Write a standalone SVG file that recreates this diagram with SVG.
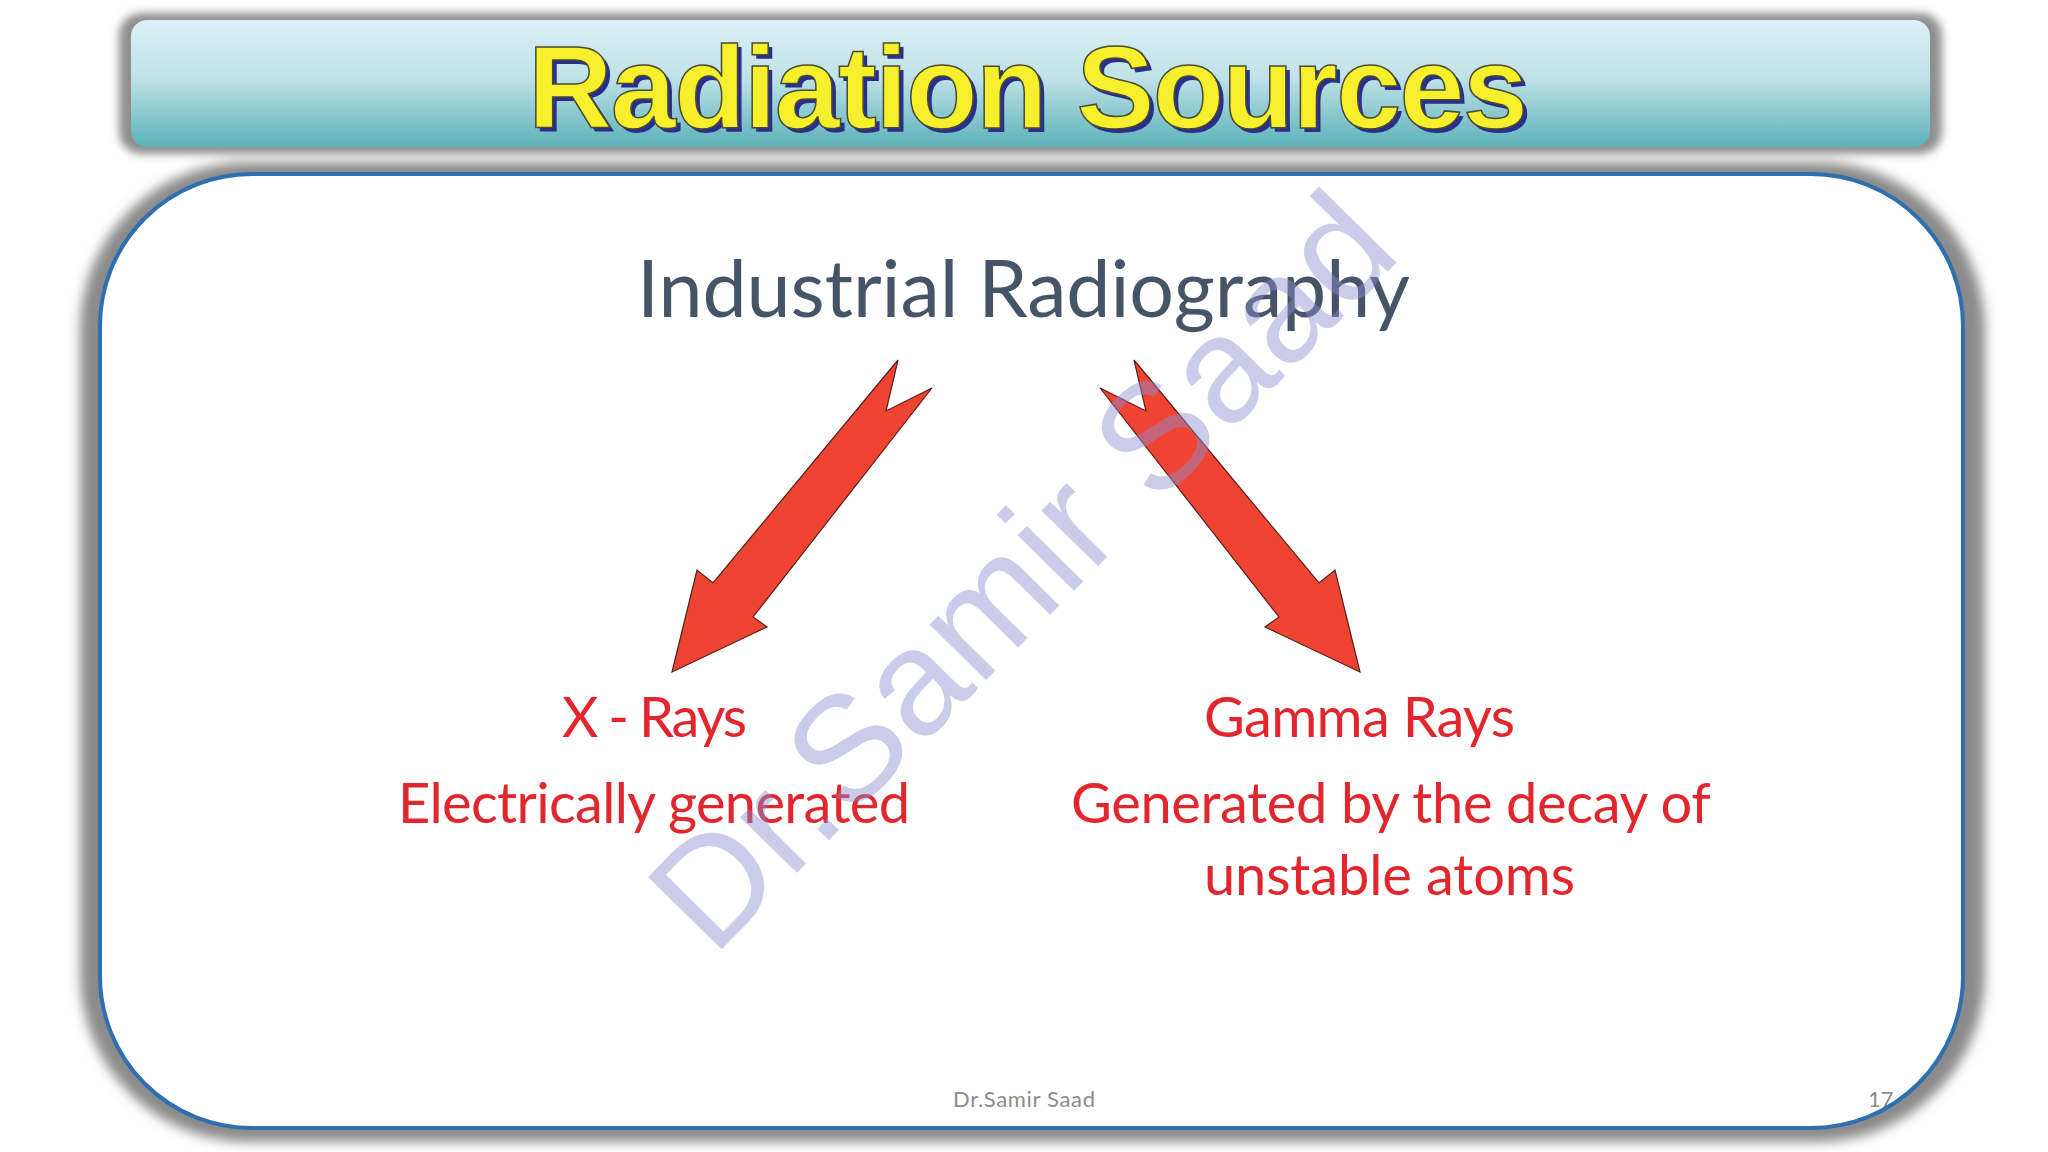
<svg xmlns="http://www.w3.org/2000/svg" width="2048" height="1152" viewBox="0 0 2048 1152">
  <style>
    .body { font-family: Lato, "Open Sans", "Liberation Sans", sans-serif; }
    .red { fill: #e1262e; font-size: 56px; }
    .arrow { fill: #f04433; stroke: #5a1f1a; stroke-width: 1.2; stroke-linejoin: miter; }
    .foot { fill: #8c8c8c; font-size: 22px; }
  </style>
  <defs>
    <linearGradient id="barGrad" x1="0" y1="0" x2="0" y2="1">
      <stop offset="0" stop-color="#dcf0f4"/>
      <stop offset="0.45" stop-color="#bfe2e7"/>
      <stop offset="1" stop-color="#5cb2b9"/>
    </linearGradient>
    <filter id="blur6" x="-5%" y="-10%" width="110%" height="120%">
      <feGaussianBlur stdDeviation="6"/>
    </filter>
    <filter id="blur4" x="-5%" y="-20%" width="110%" height="140%">
      <feGaussianBlur stdDeviation="4"/>
    </filter>
  </defs>

  <rect x="0" y="0" width="2048" height="1152" fill="#ffffff"/>

  <!-- title bar -->
  <g id="title">
    <rect x="119" y="13" width="1823" height="141" rx="22" fill="#8e8e8e" filter="url(#blur4)"/>
    <rect x="131" y="20" width="1799" height="127" rx="16" fill="url(#barGrad)"/>
    <text x="532" y="132" textLength="1000" font-family="'Liberation Sans', Arial, sans-serif" font-weight="bold" font-size="117" fill="#2a2f8e">Radiation Sources</text>
    <text x="528" y="128" textLength="1000" font-family="'Liberation Sans', Arial, sans-serif" font-weight="bold" font-size="117" fill="#f6ef2b" stroke="#4a4a30" stroke-width="1.5">Radiation Sources</text>
  </g>

  <!-- content frame -->
  <g id="frame">
    <rect x="80" y="162" width="1905" height="980" rx="168" fill="#8a8a8a" filter="url(#blur6)"/>
    <rect x="100" y="174" width="1863" height="954" rx="152" fill="#ffffff"/>
  </g>

  <g id="node-root" class="body">
    <text x="637" y="317" textLength="773" font-size="79" fill="#465468">Industrial Radiography</text>
  </g>

  <g id="connectors">
    <polygon class="arrow" points="898,360 886,411 932,388 753,617 767,627 672,672 697,570 713,583"/>
    <polygon class="arrow" points="1134,360 1146,411 1100,388 1279,617 1265,627 1360,672 1335,570 1319,583"/>
  </g>

  <g id="node-xrays" class="body">
    <text class="red" x="562" y="737" textLength="185">X - Rays</text>
    <text class="red" x="398" y="823" textLength="512">Electrically generated</text>
  </g>

  <g id="node-gamma" class="body">
    <text class="red" x="1204" y="737" textLength="311">Gamma Rays</text>
    <text class="red" x="1071" y="823" textLength="640">Generated by the decay of</text>
    <text class="red" x="1204" y="895" textLength="371">unstable atoms</text>
  </g>

  <g id="footer" class="body">
    <text class="foot" x="953" y="1107" textLength="142">Dr.Samir Saad</text>
    <text class="foot" x="1868" y="1107">17</text>
  </g>

  <rect x="100" y="174" width="1863" height="954" rx="152" fill="none" stroke="#2e6fb0" stroke-width="4"/>

  <g id="watermark">
    <text x="713" y="958" transform="rotate(-45.5 713 958)" textLength="985" font-family="'Liberation Sans', Arial, sans-serif" font-size="150" fill="#8a8fd0" fill-opacity="0.45">Dr.Samir Saad</text>
  </g>
</svg>
